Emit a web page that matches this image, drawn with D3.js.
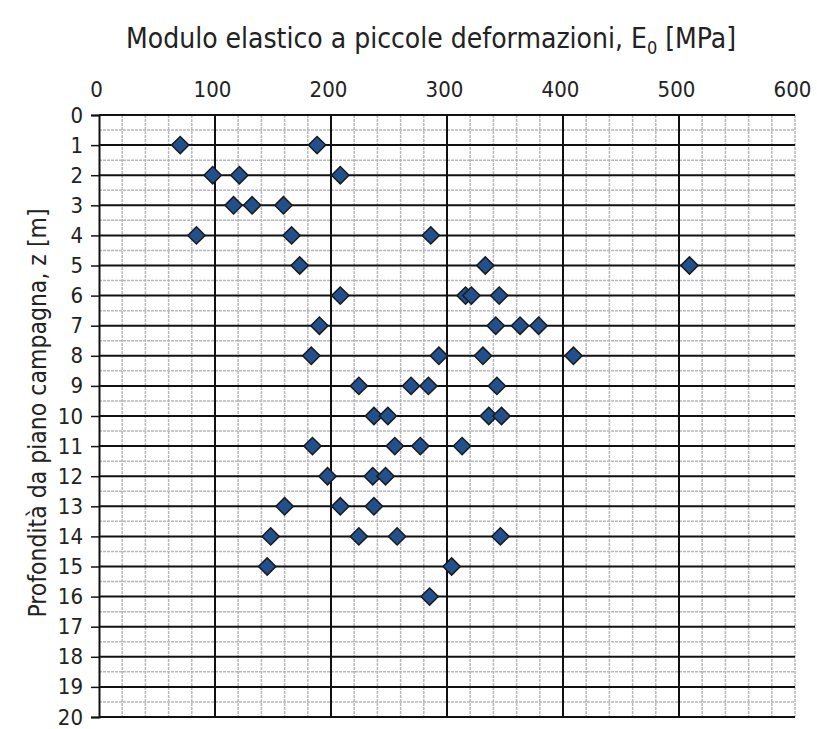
<!DOCTYPE html>
<html><head><meta charset="utf-8">
<script src="https://cdn.jsdelivr.net/npm/d3@7"></script>
<style>body{margin:0;background:#fff}</style>
</head><body>
<script>
const depths = [1,1, 2,2,2, 3,3,3, 4,4,4, 5,5,5, 6,6,6,6, 7,7,7,7, 8,8,8,8, 9,9,9,9, 10,10,10,10, 11,11,11,11, 12,12,12, 13,13,13, 14,14,14,14, 15,15, 16];
const moduli = [70,188, 98,121,208, 116,132,159, 84,166,286, 173,333,509, 208,316,321,345, 190,342,363,379, 183,293,331,409, 224,269,284,343, 237,249,336,347, 184,255,277,313, 197,236,247, 160,208,237, 148,224,257,346, 145,304, 285];
const xTicks = [0,100,200,300,400,500,600];
const yTicks = d3.range(0,21);
const xTitle = "Modulo elastico a piccole deformazioni, E";
const yTitle = "Profondità da piano campagna, z [m]";

const W=817,H=729;
const svg=d3.select("body").append("svg").attr("width",W).attr("height",H);
const x=d3.scaleLinear().domain([0,600]).range([99,795]);
const y=d3.scaleLinear().domain([0,20]).range([115,717]);
const font="'Liberation Sans Narrow','DejaVu Sans Condensed',Arial,sans-serif";

// minor grid
const g=svg.append("g");
g.selectAll("line.mv").data(d3.range(20,601,20).filter(v=>v%100!==0||v===600)).join("line")
 .attr("x1",d=>x(d)).attr("x2",d=>x(d)).attr("y1",y(0)).attr("y2",y(20))
 .attr("stroke","#b8b8bc").attr("stroke-width",1.5).attr("stroke-dasharray","3,1");
g.selectAll("line.mh").data(d3.range(0.5,20,1)).join("line")
 .attr("x1",x(0)).attr("x2",x(600)).attr("y1",d=>y(d)).attr("y2",d=>y(d))
 .attr("stroke","#b8b8bc").attr("stroke-width",1.5).attr("stroke-dasharray","3,1");
// major grid
g.selectAll("line.Mh").data(yTicks).join("line")
 .attr("x1",x(0)).attr("x2",x(600)).attr("y1",d=>y(d)).attr("y2",d=>y(d))
 .attr("stroke","#111").attr("stroke-width",2);
g.selectAll("line.Mv").data(xTicks.filter(v=>v>0&&v<600)).join("line")
 .attr("x1",d=>x(d)).attr("x2",d=>x(d)).attr("y1",y(0)).attr("y2",y(20))
 .attr("stroke","#111").attr("stroke-width",2);

// y axis
const ya=svg.append("g").attr("transform",`translate(${x(0)},0)`)
 .call(d3.axisLeft(y).tickValues(yTicks).tickSize(8).tickPadding(8).tickFormat(d3.format("d")));
ya.select(".domain").attr("stroke","#111").attr("stroke-width",2);
ya.selectAll(".tick line").attr("stroke","#111").attr("stroke-width",1.5);
ya.selectAll("text").attr("font-family",font).attr("font-size",22).attr("fill","#222");

// x axis on top (labels only)
const xa=svg.append("g").attr("transform",`translate(0,${y(0)})`)
 .call(d3.axisTop(x).tickValues(xTicks).tickSize(0).tickPadding(18));
xa.select(".domain").remove();
xa.selectAll("text").attr("font-family",font).attr("font-size",22).attr("fill","#222")
 .attr("dx",-3);

// titles
const t=svg.append("text").attr("x",431).attr("y",48).attr("text-anchor","middle")
 .attr("font-family",font).attr("font-size",28).attr("fill","#222");
t.append("tspan").text(xTitle);
t.append("tspan").attr("font-size",18).attr("dy",6).text("0");
t.append("tspan").attr("dy",-6).text(" [MPa]");
svg.append("text").attr("transform","translate(46,413) rotate(-90)").attr("text-anchor","middle")
 .attr("font-family",font).attr("font-size",24.5).attr("fill","#222").text(yTitle);

// points
const pts=depths.map((d,i)=>({z:d,e:moduli[i]}));
svg.append("g").selectAll("path").data(pts).join("path")
 .attr("d",d3.symbol(d3.symbolSquare,150))
 .attr("transform",d=>`translate(${x(d.e)},${y(d.z)}) rotate(45)`)
 .attr("fill","#21508c").attr("stroke","#1a1a1a").attr("stroke-width",1.5);
</script>
</body></html>
